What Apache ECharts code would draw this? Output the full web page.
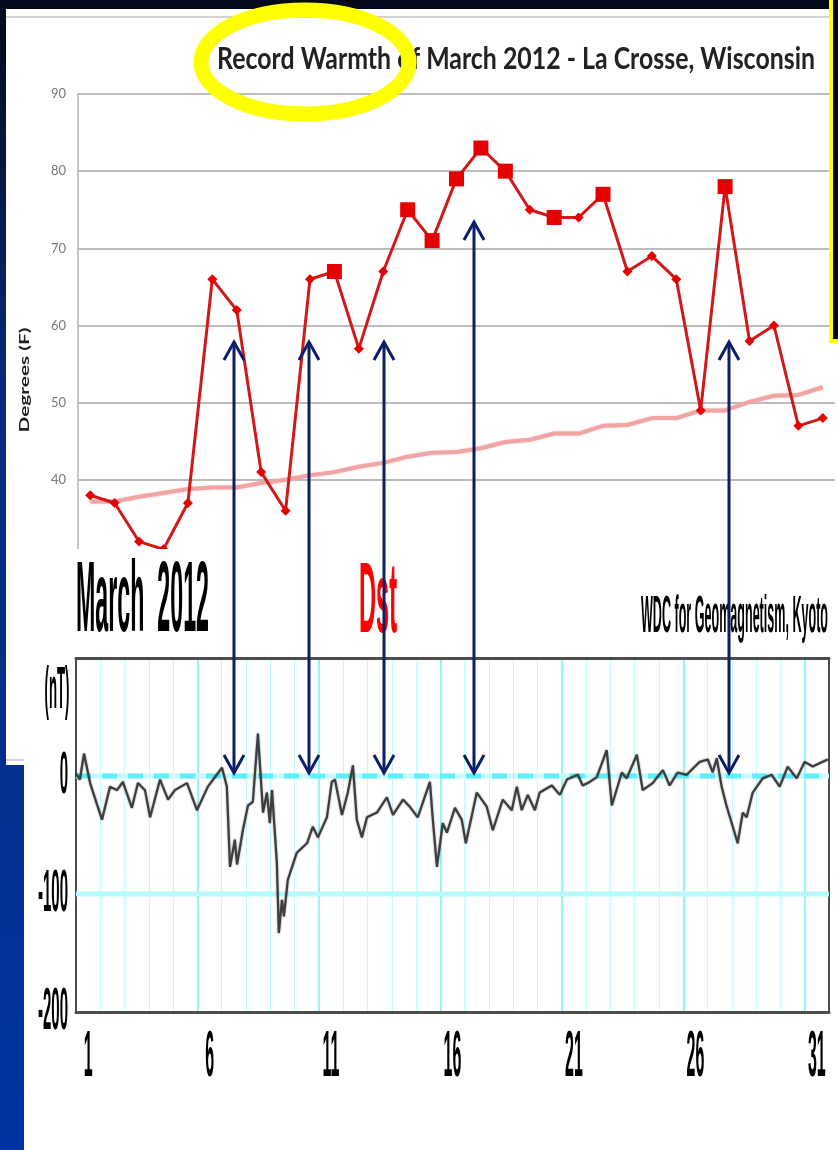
<!DOCTYPE html>
<html>
<head>
<meta charset="utf-8">
<script src="https://cdn.jsdelivr.net/npm/echarts@6/dist/echarts.min.js"></script>
<style>
  html, body { margin: 0; padding: 0; background: #020b1c; }
  #chart { width: 838px; height: 1150px; }
</style>
</head>
<body>
<div id="chart"></div>
<script>
// ---- Daily high temperature, La Crosse WI, March 2012 (deg F) ----
const days = ['1','2','3','4','5','6','7','8','9','10','11','12','13','14','15','16',
              '17','18','19','20','21','22','23','24','25','26','27','28','29','30','31'];
const tempHigh = [38, 37, 32, 31, 37, 66, 62, 41, 36, 66, 67, 57, 67, 75, 71, 79,
                  83, 80, 75, 74, 74, 77, 67, 69, 66, 49, 78, 58, 60, 47, 48];
const tempNormal = [37.2, 37.2, 37.8, 38.3, 38.8, 39.0, 39.0, 39.6, 40.0, 40.6, 41.0, 41.7, 42.2, 43.0, 43.5, 43.6,
                    44.1, 44.9, 45.2, 46.0, 46.0, 47.0, 47.1, 48.0, 48.0, 49.0, 49.0, 50.1, 50.9, 51.0, 52.0];
// days that set a new daily record (drawn as squares)
const recordDays = [11, 14, 15, 16, 17, 18, 20, 22, 27];

// ---- Dst index, March 2012: time in days since 1 March 00 UT, value in nT ----
const dstTime = [0.00, 0.16, 0.33, 0.58, 1.07, 1.40, 1.69, 1.93, 2.30, 2.55, 2.84, 3.05, 3.46, 3.79, 4.07, 4.57,
                 4.98, 5.43, 6.01, 6.21, 6.34, 6.54, 6.63, 6.87, 7.08, 7.28, 7.49, 7.70, 7.86, 7.98, 8.07, 8.27,
                 8.35, 8.48, 8.56, 8.72, 9.09, 9.51, 9.75, 9.96, 10.33, 10.53, 10.66, 10.95, 11.19, 11.40, 11.56, 11.77,
                 11.98, 12.39, 12.80, 13.05, 13.46, 13.74, 14.07, 14.57, 14.69, 14.86, 15.10, 15.27, 15.60, 15.88,
                 16.05, 16.50, 16.91, 17.16, 17.57, 17.94, 18.15, 18.35, 18.60, 18.89, 19.09, 19.59, 19.92, 20.21,
                 20.66, 20.86, 21.15, 21.44, 21.85, 22.06, 22.47, 22.67, 23.09, 23.33, 23.74, 24.16, 24.44, 24.77,
                 25.14, 25.68, 26.01, 26.21, 26.38, 26.58, 26.79, 27.04, 27.24, 27.45, 27.61, 27.86, 28.27, 28.64,
                 28.97, 29.30, 29.67, 30.00, 30.33, 30.74, 30.95];
const dstValue = [2, -3, 19, -6, -37, -9, -12, -5, -27, -6, -12, -35, -3, -20, -12, -6,
                  -29, -9, 7, -9, -77, -54, -75, -46, -25, -22, 36, -31, -14, -40, -12, -74,
                  -133, -105, -119, -88, -65, -57, -43, -52, -35, -5, -3, -33, -14, 9, -37, -52,
                  -35, -31, -18, -33, -20, -26, -35, -5, -37, -77, -40, -48, -27, -37,
                  -57, -14, -26, -46, -20, -29, -9, -29, -16, -29, -14, -8, -16, -3,
                  1, -8, -5, -1, 22, -25, 3, -2, 18, -12, -6, 5, -8, 3,
                  1, 12, 14, 3, 15, -9, -26, -43, -57, -31, -35, -14, -2, 1,
                  -9, 8, -2, 12, 8, 12, 14];
const dstDayLabels = ['1', '6', '11', '16', '21', '26', '31'];
const dstValueLabels = [0, -100, -200];
// quiet-level and -100 nT reference levels
const dstQuiet = 0;
const dstStorm = -100;

// ---- layout ----
const W = 838, H = 1150;
const INK = '#0b1f66';
const ARROWS = [
  { x: 234, top: 342 }, { x: 309, top: 342 }, { x: 384, top: 342 },
  { x: 474, top: 222 }, { x: 729, top: 342 }
];
const ARROW_BOTTOM = 773;

const chart = echarts.init(document.getElementById('chart'), null, { renderer: 'canvas' });

const tempData = tempHigh.map((v, i) => {
  const rec = recordDays.includes(i + 1);
  return { value: v, symbol: rec ? 'rect' : 'diamond', symbolSize: rec ? [15, 15] : [10, 10] };
});
const dstData = dstTime.map((t, i) => [t, dstValue[i]]);

const hiddenAxis = { axisLine: { show: false }, axisTick: { show: false }, axisLabel: { show: false }, splitLine: { show: false } };

function levelSeries(level, z, lineStyle) {
  return {
    type: 'line', xAxisIndex: 3, yAxisIndex: 1, z: z, silent: true,
    data: [[0, level], [31, level]], symbol: 'none', showSymbol: false, lineStyle: lineStyle
  };
}

chart.setOption({
  animation: false,
  grid: [
    { left: 78, top: 94, width: 757, height: 463, containLabel: false, outerBoundsMode: 'none' },
    { left: 76, top: 658, width: 753, height: 354, containLabel: false, outerBoundsMode: 'none' }
  ],
  xAxis: [
    Object.assign({ type: 'category', gridIndex: 0, data: days, boundaryGap: true, z: 2 }, hiddenAxis),
    {
      type: 'category', gridIndex: 1, data: days, boundaryGap: true, position: 'bottom', z: 11,
      axisLine: { onZero: false, lineStyle: { color: '#4d4d4d', width: 3 } },
      axisTick: { inside: true, length: 8, interval: 0, lineStyle: { color: '#3c3c3c', width: 1.5 } },
      axisLabel: { show: false },
      splitLine: { show: true, interval: 0, lineStyle: { color: '#c2fbff', width: 1 } }
    },
    {
      type: 'category', gridIndex: 1, data: days, boundaryGap: true, position: 'top', z: 11,
      axisLine: { onZero: false, lineStyle: { color: '#4d4d4d', width: 3 } },
      axisTick: { inside: true, length: 8, interval: 0, lineStyle: { color: '#3c3c3c', width: 1.5 } },
      axisLabel: { show: false }, splitLine: { show: false }
    },
    {
      type: 'value', gridIndex: 1, min: 0, max: 31, interval: 5, position: 'top', z: 11,
      axisLine: { show: false, onZero: false }, axisTick: { show: false }, axisLabel: { show: false },
      splitLine: { show: true, lineStyle: { color: '#7cf1fb', width: 1.5 } }
    }
  ],
  yAxis: [
    {
      type: 'value', gridIndex: 0, min: 30, max: 90, interval: 10, z: 2,
      axisLine: { show: true, lineStyle: { color: '#b4b4b4', width: 1.5 } },
      axisTick: { show: false },
      axisLabel: { color: '#777', fontSize: 13, fontFamily: 'Lato', margin: 12 },
      splitLine: { lineStyle: { color: '#a6a6a6', width: 1.5 } }
    },
    {
      type: 'value', gridIndex: 1, min: -200, max: 100, interval: 100, position: 'left', z: 11,
      axisLine: { show: true, onZero: false, lineStyle: { color: '#4d4d4d', width: 2 } },
      axisTick: { show: false }, axisLabel: { show: false }, splitLine: { show: false }
    },
    {
      type: 'value', gridIndex: 1, min: -200, max: 100, interval: 100, position: 'right', z: 11,
      axisLine: { show: true, onZero: false, lineStyle: { color: '#4d4d4d', width: 2 } },
      axisTick: { show: false }, axisLabel: { show: false }, splitLine: { show: false }
    }
  ],
  series: [
    {
      name: 'Normal', type: 'line', xAxisIndex: 0, yAxisIndex: 0, data: tempNormal, z: 3,
      symbol: 'none', silent: true,
      lineStyle: { color: '#f0a4a4', width: 4, shadowColor: 'rgba(240,150,150,0.6)', shadowBlur: 2 }
    },
    {
      name: 'High', type: 'line', xAxisIndex: 0, yAxisIndex: 0, data: tempData, z: 4,
      lineStyle: { color: '#d01a1a', width: 3 },
      itemStyle: { color: '#e60000', borderWidth: 0 }
    },
    levelSeries(dstQuiet, 12, { color: '#c6fbff', width: 5, type: 'solid' }),
    levelSeries(dstQuiet, 12, { color: '#5eeffb', width: 5, type: [15, 11] }),
    levelSeries(dstStorm, 12, { color: '#b8f9fe', width: 5, type: 'solid' }),
    {
      name: 'Dst', type: 'line', xAxisIndex: 3, yAxisIndex: 1, data: dstData, z: 13,
      showSymbol: false, symbol: 'none', silent: true,
      lineStyle: { color: '#3d3d3d', width: 2.2, shadowColor: 'rgba(0,0,0,0.45)', shadowBlur: 2 }
    }
  ]
});

// ---- text helpers: stretched, condensed lettering ----
const mctx = document.createElement('canvas').getContext('2d');
function measure(text, font) { mctx.font = font; return mctx.measureText(text).width; }

function stretched(text, o) {
  const font = (o.weight || 'bold') + ' ' + o.size + 'px ' + o.family;
  const natural = measure(text, font);
  const sy = o.capH / (o.size * (o.capRatio || 0.716));
  const sx = o.w ? o.w / natural : 1;
  return {
    type: 'text', x: o.x, y: o.y, scaleX: sx, scaleY: sy, rotation: o.rotation || 0, z: o.z || 14, silent: true,
    style: { text: text, font: font, fill: o.fill || '#000', textAlign: o.align || 'left', textVerticalAlign: 'middle' }
  };
}

function arrow(a) {
  const hw = 10, hh = 18;
  return [
    { type: 'line', z: 20, silent: true, shape: { x1: a.x, y1: a.top, x2: a.x, y2: ARROW_BOTTOM },
      style: { stroke: INK, lineWidth: 3 } },
    { type: 'polyline', z: 20, silent: true, shape: { points: [[a.x - hw, a.top + hh], [a.x, a.top], [a.x + hw, a.top + hh]] },
      style: { stroke: INK, lineWidth: 3, fill: null } },
    { type: 'polyline', z: 20, silent: true, shape: { points: [[a.x - hw, ARROW_BOTTOM - hh], [a.x, ARROW_BOTTOM], [a.x + hw, ARROW_BOTTOM - hh]] },
      style: { stroke: INK, lineWidth: 3, fill: null } }
  ];
}

const graphics = [
  // slide background
  { type: 'rect', z: 0, silent: true, shape: { x: 0, y: 0, width: W, height: H },
    style: { fill: new echarts.graphic.LinearGradient(0, 0, 0, 1, [
      { offset: 0, color: '#020a1a' }, { offset: 0.12, color: '#061638' },
      { offset: 0.35, color: '#0a2a80' }, { offset: 1, color: '#0034a0' }]) } },
  // temperature chart panel
  { type: 'rect', z: 1, silent: true, shape: { x: 6, y: 9, width: 832, height: 756 }, style: { fill: '#ffffff' } },
  { type: 'line', z: 1, silent: true, shape: { x1: 6, y1: 17, x2: 830, y2: 17 }, style: { stroke: '#c4c4c4', lineWidth: 1.5 } },
  { type: 'line', z: 1, silent: true, shape: { x1: 6, y1: 760, x2: 24, y2: 760 }, style: { stroke: '#c4c4c4', lineWidth: 1.5 } },
  stretched('Record Warmth of March 2012 - La Crosse, Wisconsin',
    { size: 30, family: 'Lato', weight: 'bold', x: 217, y: 59, w: 598, capH: 22, capRatio: 0.72, fill: '#222', z: 5 }),
  { type: 'ellipse', z: 6, silent: true, shape: { cx: 305, cy: 62, rx: 104, ry: 52 },
    style: { fill: null, stroke: '#ffff00', lineWidth: 15 } },
  stretched('Degrees (F)',
    { size: 14, family: 'Lato', weight: 'bold', x: 25, y: 380, w: 105, capH: 10, capRatio: 0.72, fill: '#222', align: 'center', rotation: Math.PI / 2, z: 5 }),
  // yellow-framed box at the right edge
  { type: 'rect', z: 20, silent: true, shape: { x: 831, y: -10, width: 20, height: 351 },
    style: { fill: '#080808', stroke: '#ffff00', lineWidth: 4 } },
  // Dst plot panel
  { type: 'rect', z: 10, silent: true, shape: { x: 24, y: 549, width: 814, height: 601 }, style: { fill: '#ffffff' } },
  stretched('March  2012', { size: 20, family: '"Liberation Sans"', x: 76, y: 603, w: 133, capH: 72 }),
  stretched('Dst', { size: 20, family: '"Liberation Sans"', x: 359, y: 604, w: 38, capH: 72, fill: '#ff0000' }),
  stretched('WDC for Geomagnetism, Kyoto', { size: 14, family: '"Liberation Sans"', x: 641, y: 618, w: 187, capH: 37 }),
  stretched('(nT)', { size: 13, family: '"Liberation Sans"', x: 57, y: 692, w: 25, capH: 42, align: 'center' })
];

// Dst axis labels, placed through the axes' own scales
dstValueLabels.forEach(v => {
  const py = chart.convertToPixel({ yAxisIndex: 1 }, v);
  graphics.push(stretched(String(v), { size: 15, family: '"Liberation Sans"', x: 68, y: py, capH: 43, align: 'right' }));
});
dstDayLabels.forEach(d => {
  const px = chart.convertToPixel({ xAxisIndex: 1 }, days.indexOf(d));
  graphics.push(stretched(d, { size: 16, family: '"Liberation Sans"', x: px, y: 1058, capH: 47, align: 'center' }));
});

ARROWS.forEach(a => arrow(a).forEach(g => graphics.push(g)));

chart.setOption({ graphic: { elements: graphics } });
</script>
</body>
</html>
